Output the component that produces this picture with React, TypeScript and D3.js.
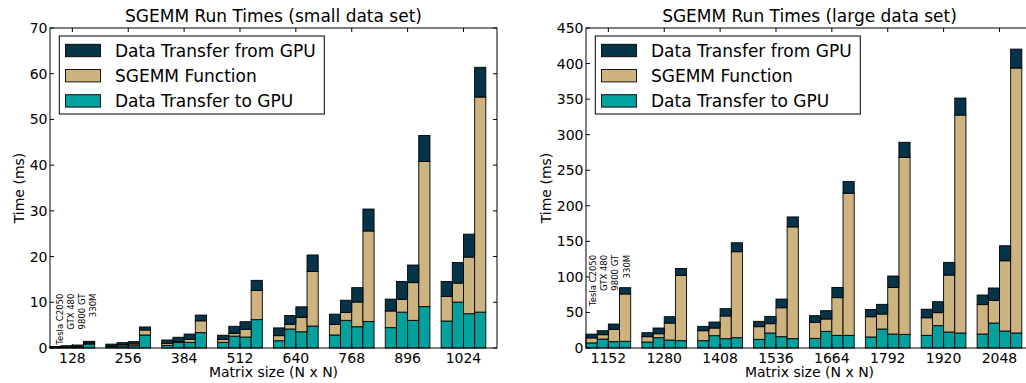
import React from "react";
import * as d3 from "d3";

// matrix sizes (tick labels) for the two panels
const smallSizes = ["128", "256", "384", "512", "640", "768", "896", "1024"];
const largeSizes = ["1152", "1280", "1408", "1536", "1664", "1792", "1920", "2048"];
const gpus = ["Tesla C2050", "GTX 480", "9800 GT", "330M"];

// small data set, ms, [size][gpu]
const smallToGpu = [
  [0.08, 0.1, 0.2, 0.87],
  [0.3, 0.45, 0.5, 2.85],
  [0.58, 1.24, 1.25, 3.36],
  [1.25, 2.6, 2.4, 6.2],
  [1.6, 4.16, 3.55, 4.8],
  [2.85, 6.05, 4.65, 5.8],
  [4.45, 7.85, 6.05, 9.05],
  [5.9, 10.05, 7.5, 7.85],
];
const smallSgemm = [
  [0.07, 0.1, 0.15, 0.23],
  [0.15, 0.28, 0.38, 1.09],
  [0.42, 0.16, 0.65, 2.59],
  [0.6, 0.6, 1.7, 6.4],
  [1.1, 1.04, 3.15, 11.95],
  [2.3, 1.75, 5.4, 19.8],
  [3.65, 2.8, 8.25, 31.75],
  [5.4, 4.15, 12.4, 47.05],
];
const smallFromGpu = [
  [0.2, 0.3, 0.3, 0.36],
  [0.4, 0.44, 0.51, 0.66],
  [0.75, 0.95, 1.15, 1.25],
  [0.95, 1.55, 1.65, 2.2],
  [1.7, 1.9, 2.3, 3.6],
  [2.25, 2.65, 3.15, 4.8],
  [2.6, 3.9, 3.85, 5.7],
  [3.25, 4.5, 5.0, 6.5],
];

// large data set, ms, [size][gpu]
const largeToGpu = [
  [7.2, 12.6, 8.9, 9.4],
  [8.4, 14.5, 11.2, 10.3],
  [10.3, 17.3, 13.1, 14.5],
  [12.2, 21.1, 15.9, 13.1],
  [13.6, 23.4, 17.8, 17.8],
  [15.5, 26.7, 19.7, 19.2],
  [17.8, 31.4, 22.5, 21.1],
  [19.7, 35.1, 23.9, 21.1],
];
const largeSgemm = [
  [7.0, 6.1, 17.3, 66.6],
  [7.5, 5.6, 23.9, 91.7],
  [14.0, 10.8, 31.9, 120.9],
  [17.8, 13.1, 40.7, 157.2],
  [22.5, 17.4, 53.0, 199.9],
  [28.5, 21.1, 65.5, 249.0],
  [24.7, 18.3, 80.1, 306.5],
  [41.3, 31.8, 98.8, 372.6],
];
const largeFromGpu = [
  [5.3, 5.6, 7.5, 8.8],
  [5.6, 8.0, 8.9, 9.9],
  [6.1, 8.4, 10.3, 12.6],
  [7.5, 10.3, 12.2, 14.0],
  [9.4, 11.7, 14.4, 16.3],
  [10.2, 13.6, 16.0, 21.1],
  [12.0, 15.4, 17.8, 23.9],
  [13.5, 17.5, 21.1, 26.6],
];

const keys = ["toGpu", "sgemm", "fromGpu"];
const colors: any = { toGpu: "#03a19e", sgemm: "#cdb380", fromGpu: "#053449" };
const legendItems = [
  { key: "fromGpu", label: "Data Transfer from GPU" },
  { key: "sgemm", label: "SGEMM Function" },
  { key: "toGpu", label: "Data Transfer to GPU" },
];

const font = "DejaVu Sans, sans-serif";

function Panel(props: any) {
  const { left, title, sizes, toGpu, sgemm, fromGpu, yMax, nTicks, ylabX, labelTop, labelDx } = props;
  const top = 28,
    bottom = 348,
    w = 447;
  const x = d3.scaleLinear().domain([0, sizes.length]).range([left, left + w]);
  const y = d3.scaleLinear().domain([0, yMax]).range([bottom, top]);
  const bw = 0.2;

  let rows: any[] = [];
  sizes.forEach((s: string, g: number) => {
    gpus.forEach((gp, i) => {
      rows.push({
        pos: g + i * bw,
        toGpu: toGpu[g][i],
        sgemm: sgemm[g][i],
        fromGpu: fromGpu[g][i],
      });
    });
  });
  const series = d3.stack().keys(keys)(rows);

  return (
    <g>
      <text x={left + w / 2} y={22} textAnchor="middle" fontSize={17} fontFamily={font}>
        {title}
      </text>
      {series.map((s: any) =>
        s.map((d: any, j: number) => (
          <rect
            key={s.key + j}
            x={x(d.data.pos)}
            y={y(d[1])}
            width={x(bw) - x(0)}
            height={Math.max(0, y(d[0]) - y(d[1]))}
            fill={colors[s.key]}
            stroke="#000"
            strokeWidth={0.9}
          />
        ))
      )}
      {gpus.map((gp, i) => (
        <text
          key={gp}
          transform={`translate(${x((i + 0.5) * bw) + labelDx},${y(labelTop)}) rotate(-90)`}
          textAnchor="end"
          dominantBaseline="central"
          fontSize={8.5}
          fontFamily={font}
        >
          {gp}
        </text>
      ))}
      {/* legend */}
      <rect x={left + 9.3} y={36} width={265} height={78} fill="#fff" stroke="#000" strokeWidth={1} />
      {legendItems.map((it, i) => (
        <g key={it.key}>
          <rect
            x={left + 15.5}
            y={50.5 + i * 25.2 - 6.2}
            width={35}
            height={12.4}
            fill={colors[it.key]}
            stroke="#000"
            strokeWidth={0.9}
          />
          <text x={left + 65} y={50.5 + i * 25.2} dy="0.36em" fontSize={17} fontFamily={font}>
            {it.label}
          </text>
        </g>
      ))}
      {/* frame */}
      <rect x={left} y={top} width={w} height={bottom - top} fill="none" stroke="#000" strokeWidth={1} />
      {y.ticks(nTicks).map((t) => (
        <g key={"y" + t}>
          <line x1={left} x2={left + 4} y1={y(t)} y2={y(t)} stroke="#000" />
          <line x1={left + w} x2={left + w - 4} y1={y(t)} y2={y(t)} stroke="#000" />
          <text x={left - 2.5} y={y(t)} dy="0.36em" textAnchor="end" fontSize={14} fontFamily={font}>
            {t}
          </text>
        </g>
      ))}
      {sizes.map((s: string, g: number) => (
        <g key={"x" + s}>
          <line x1={x(g + 2 * bw)} x2={x(g + 2 * bw)} y1={bottom} y2={bottom - 4} stroke="#000" />
          <line x1={x(g + 2 * bw)} x2={x(g + 2 * bw)} y1={top} y2={top + 4} stroke="#000" />
          <text x={x(g + 2 * bw)} y={363} textAnchor="middle" fontSize={14} fontFamily={font}>
            {s}
          </text>
        </g>
      ))}
      <text x={left + w / 2} y={377} textAnchor="middle" fontSize={14} fontFamily={font}>
        Matrix size (N x N)
      </text>
      <text
        transform={`translate(${ylabX},${(top + bottom) / 2}) rotate(-90)`}
        textAnchor="middle"
        fontSize={14}
        fontFamily={font}
      >
        Time (ms)
      </text>
    </g>
  );
}

export default function App() {
  return (
    <svg
      width={1026}
      height={383}
      style={{ position: "absolute", left: 0, top: 0, background: "#fff" }}
    >
      <rect width={1026} height={383} fill="#fff" />
      <Panel
        left={50}
        title="SGEMM Run Times (small data set)"
        sizes={smallSizes}
        toGpu={smallToGpu}
        sgemm={smallSgemm}
        fromGpu={smallFromGpu}
        yMax={70}
        nTicks={7}
        ylabX={24}
        labelTop={11.9}
        labelDx={4}
      />
      <Panel
        left={586}
        title="SGEMM Run Times (large data set)"
        sizes={largeSizes}
        toGpu={largeToGpu}
        sgemm={largeSgemm}
        fromGpu={largeFromGpu}
        yMax={450}
        nTicks={9}
        ylabX={551}
        labelTop={131}
        labelDx={1.5}
      />
    </svg>
  );
}
